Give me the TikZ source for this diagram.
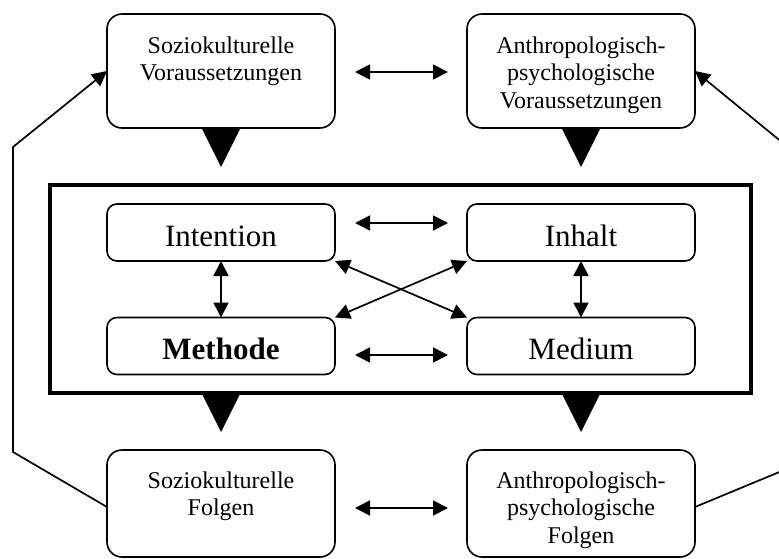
\documentclass[tikz,border=0pt]{standalone}
\usepackage{fontspec}
\setmainfont{Liberation Serif}
\usetikzlibrary{arrows.meta,calc}
\begin{document}
\begin{tikzpicture}[x=1pt,y=-1pt,
  outerbox/.style={draw, line width=1.6pt, rounded corners=15pt, minimum width=228pt, minimum height=114pt, inner sep=0pt, outer sep=0pt},
  innerbox/.style={draw, line width=1.6pt, rounded corners=10pt, minimum width=228pt, minimum height=57pt, inner sep=0pt, outer sep=0pt, font=\fontsize{31}{36}\selectfont, text height=27pt, text depth=0pt},
  smalltxt/.style={anchor=north, align=center, inner sep=0pt, font=\fontsize{24}{27.5}\selectfont},
  frame/.style={draw, line width=3.2pt, minimum width=701pt, minimum height=208pt, inner sep=0pt, outer sep=0pt},
  dbl/.style={{Triangle[length=15pt,width=15pt]}-{Triangle[length=15pt,width=15pt]}, line width=1.7pt},
  one/.style={-{Triangle[length=15pt,width=15pt]}, line width=1.7pt, line join=miter}
]
\useasboundingbox (0,0) rectangle (779,559);
\clip (0,0) rectangle (779,559);

% outer boxes
\node[outerbox] (sv) at (221,71) {};
\node[outerbox] (av) at (581,71) {};
\node[outerbox, minimum height=107pt] (sf) at (221,503.5) {};
\node[outerbox, minimum height=107pt] (af) at (581,503.5) {};
\node[smalltxt] (svt) at ($(sv.north)+(0,22.4)$) {Soziokulturelle\\Voraussetzungen};
\node[smalltxt] (avt) at ($(av.north)+(0,22.4)$) {Anthropologisch-\\psychologische\\Voraussetzungen};
\node[smalltxt] (sft) at ($(sf.north)+(0,21.4)$) {Soziokulturelle\\Folgen};
\node[smalltxt] (aft) at ($(af.north)+(0,21.4)$) {Anthropologisch-\\psychologische\\Folgen};

% frame and inner boxes
\node[frame] (fr) at (400.5,289) {};
\node[innerbox] (int) at (221,232.5) {Intention};
\node[innerbox] (inh) at (581,232.5) {Inhalt};
\node[innerbox] (met) at (221,346) {\textbf{Methode}};
\node[innerbox] (med) at (581,346) {Medium};

% big triangles
\fill ($(sv.south)+(-19.5,0)$) -- ($(sv.south)+(19.5,0)$) -- ($(sv.south)+(0,39)$) -- cycle;
\fill ($(av.south)+(-19.5,0)$) -- ($(av.south)+(19.5,0)$) -- ($(av.south)+(0,39)$) -- cycle;
\fill ($(fr.south -| sf.north)+(-19.5,0)$) -- ($(fr.south -| sf.north)+(19.5,0)$) -- ($(fr.south -| sf.north)+(0,39)$) -- cycle;
\fill ($(fr.south -| af.north)+(-19.5,0)$) -- ($(fr.south -| af.north)+(19.5,0)$) -- ($(fr.south -| af.north)+(0,39)$) -- cycle;

% double arrows
\draw[dbl] ($(sv.east)+(20,1)$) -- ($(av.west)+(-19,1)$);
\draw[dbl] ($(int.east)+(20,-9.5)$) -- ($(inh.west)+(-19,-9.5)$);
\draw[dbl] ($(met.east)+(20,9)$) -- ($(med.west)+(-19,9)$);
\draw[dbl] ($(sf.east)+(20,4.5)$) -- ($(af.west)+(-19,4.5)$);
\draw[dbl] (int.south) -- (met.north);
\draw[dbl] (inh.south) -- (med.north);
\draw[dbl] (int.south east) -- (med.north west);
\draw[dbl] (met.north east) -- (inh.south west);

% feedback lines
\coordinate (lb) at (13,452);
\coordinate (lt) at (13,147);
\draw[one] ($(sf.west)+(0,3.5)$) -- (lb) -- (lt) -- (sv.west);
\coordinate (rb) at (789,468);
\coordinate (rt) at (789,148);
\draw[one] ($(af.east)+(0,3.5)$) -- (rb) -- (rt) -- (av.east);
\end{tikzpicture}
\end{document}
